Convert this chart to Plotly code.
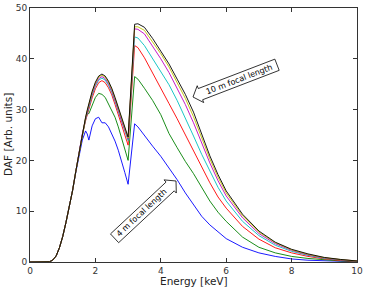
import math
import plotly.graph_objects as go

energy = [0, 0.5, 0.6, 0.7, 0.8, 0.9, 1.0, 1.1, 1.2, 1.3, 1.4, 1.5, 1.6, 1.7, 1.75, 1.8, 1.85, 1.9,
          2.0, 2.1, 2.2, 2.3, 2.4, 2.5, 2.6, 2.7, 2.8, 2.9, 3.0, 3.2, 3.3, 3.5, 3.75, 4.0, 4.25, 4.5,
          4.75, 5.0, 5.25, 5.5, 5.75, 6.0, 6.5, 7.0, 7.5, 8.0, 8.5, 9.0, 9.5, 10.0]

daf_4m = [0, 0, 0.05, 0.4, 1.2, 2.8, 5.0, 7.8, 10.8, 14.0, 17.6, 21.2, 24.0, 25.8, 25.2, 24.0, 25.2, 26.8,
          28.2, 28.5, 27.4, 27.4, 26.6, 25.3, 23.8, 22.0, 20.0, 17.6, 15.3, 27.2, 26.6, 24.8, 22.8, 20.8, 18.6, 16.2,
          13.6, 11.2, 9.0, 7.3, 5.9, 4.6, 2.9, 1.8, 1.1, 0.6, 0.35, 0.2, 0.1, 0.05]
daf_5m = [0, 0, 0.05, 0.4, 1.2, 2.8, 5.0, 7.8, 10.8, 14.0, 17.8, 21.6, 24.8, 28.2, 29.2, 29.2, 30.0, 30.9,
          32.4, 33.2, 33.0, 32.4, 31.2, 29.8, 28.5, 26.6, 24.4, 22.0, 20.0, 36.5, 36.0, 34.2, 31.8, 29.0, 25.3, 22.5,
          19.8, 17.4, 14.7, 12.0, 9.8, 8.0, 4.9, 2.9, 1.8, 1.1, 0.7, 0.4, 0.2, 0.08]
daf_6m = [0, 0, 0.05, 0.4, 1.2, 2.8, 5.0, 7.8, 10.8, 14.0, 17.8, 21.6, 25.0, 27.8, 29.0, 30.2, 31.3, 32.3,
          34.1, 35.3, 35.7, 35.3, 34.3, 32.9, 31.0, 29.0, 26.8, 24.8, 23.0, 42.6, 42.2, 40.2, 37.3, 34.2, 31.2, 28.2,
          25.0, 21.8, 18.6, 15.6, 12.8, 10.6, 7.0, 4.5, 2.8, 1.8, 1.1, 0.6, 0.3, 0.12]
daf_7m = [0, 0, 0.05, 0.4, 1.2, 2.8, 5.0, 7.8, 10.8, 14.0, 17.8, 21.6, 25.1, 28.0, 29.3, 30.6, 31.7, 32.8,
          34.6, 35.8, 36.2, 35.8, 34.8, 33.4, 31.6, 29.6, 27.5, 25.5, 23.9, 44.3, 44.1, 42.6, 40.1, 37.5, 34.9, 31.8,
          28.4, 24.8, 21.2, 17.8, 14.7, 12.0, 8.0, 5.2, 3.3, 2.1, 1.3, 0.7, 0.4, 0.15]
daf_8m = [0, 0, 0.05, 0.4, 1.2, 2.8, 5.0, 7.8, 10.8, 14.0, 17.8, 21.6, 25.2, 28.2, 29.6, 30.9, 32.0, 33.1,
          34.9, 36.1, 36.5, 36.1, 35.1, 33.7, 31.9, 29.9, 27.8, 25.8, 24.2, 45.9, 45.8, 44.9, 42.5, 40.0, 37.3, 34.3,
          31.0, 27.4, 23.4, 19.5, 16.0, 13.0, 8.7, 5.6, 3.6, 2.3, 1.4, 0.8, 0.45, 0.2]
daf_9m = [0, 0, 0.05, 0.4, 1.2, 2.8, 5.0, 7.8, 10.8, 14.0, 17.8, 21.6, 25.3, 28.4, 29.8, 31.1, 32.3, 33.4,
          35.2, 36.4, 36.8, 36.4, 35.4, 34.0, 32.2, 30.2, 28.1, 26.1, 24.4, 46.3, 46.3, 45.6, 43.4, 41.0, 38.4, 35.4,
          32.2, 28.6, 24.4, 20.3, 16.7, 13.6, 9.1, 5.9, 3.8, 2.4, 1.5, 0.85, 0.48, 0.2]
daf_10m = [0, 0, 0.05, 0.4, 1.2, 2.8, 5.0, 7.8, 10.8, 14.0, 17.8, 21.6, 25.3, 28.5, 29.9, 31.3, 32.5, 33.6,
           35.4, 36.6, 37.0, 36.6, 35.6, 34.2, 32.4, 30.4, 28.3, 26.3, 24.6, 46.8, 46.9, 46.2, 44.0, 41.5, 39.0, 36.0,
           33.0, 29.5, 25.2, 20.9, 17.2, 14.0, 9.4, 6.1, 3.9, 2.5, 1.6, 0.9, 0.5, 0.2]

series = [daf_4m, daf_5m, daf_6m, daf_7m, daf_8m, daf_9m, daf_10m]
colors = ["#0000ff", "#008000", "#ff0000", "#00bfbf", "#bf00bf", "#bfbf00", "#000000"]
names = ["4 m", "5 m", "6 m", "7 m", "8 m", "9 m", "10 m"]

x_ticks = [0, 2, 4, 6, 8, 10]
y_ticks = [0, 10, 20, 30, 40, 50]

W, H = 370, 287
ml, mr, mt, mb = 30, 13, 8, 25
pw, ph = W - ml - mr, H - mt - mb

fig = go.Figure()
for ys, c, n in zip(series, colors, names):
    fig.add_trace(go.Scatter(x=energy, y=ys, mode="lines", name=n,
                             line=dict(color=c, width=0.9), showlegend=False))


def to_paper(px, py):
    return (px - ml) / pw, (H - mb - py) / ph


def arrow_box(tip, ang_deg, length, half_h, head_len, head_hw):
    a = math.radians(ang_deg)
    u = (math.cos(a), -math.sin(a))
    n = (math.sin(a), math.cos(a))
    tx, ty = tip

    def pt(s, t):
        return (tx + s * u[0] + t * n[0], ty + s * u[1] + t * n[1])

    pts = [pt(0, 0), pt(head_len, -head_hw), pt(head_len, -half_h), pt(length, -half_h),
           pt(length, half_h), pt(head_len, half_h), pt(head_len, head_hw)]
    pp = [to_paper(*p) for p in pts]
    path = "M " + " L ".join(f"{x:.4f},{y:.4f}" for x, y in pp) + " Z"
    fig.add_shape(type="path", path=path, xref="paper", yref="paper",
                  line=dict(color="black", width=0.8), fillcolor="white", layer="above")
    cx, cy = pt((head_len + length) / 2 + 0.5, 0)
    return to_paper(cx, cy)


a1 = arrow_box((193, 97), 21, 90, 6, 8, 9)
a2 = arrow_box((176, 181), 180 + 43, 84, 6, 8, 9)

fig.add_annotation(x=a1[0], y=a1[1], xref="paper", yref="paper", text="10 m focal length",
                   xanchor="center", yanchor="middle",
                   showarrow=False, textangle=-21, font=dict(family="DejaVu Sans", size=8, color="black"))
fig.add_annotation(x=a2[0], y=a2[1], xref="paper", yref="paper", text="4 m focal length",
                   xanchor="center", yanchor="middle",
                   showarrow=False, textangle=-43, font=dict(family="DejaVu Sans", size=8, color="black"))

# axis titles
fig.add_annotation(x=0.5, y=-(281 - (H - mb)) / ph, xref="paper", yref="paper", text="Energy [keV]",
                   xanchor="center", yanchor="middle", showarrow=False,
                   font=dict(family="DejaVu Sans", size=10.5, color="#222222"))
fig.add_annotation(x=-(ml - 8) / pw, y=to_paper(0, 135)[1], xref="paper", yref="paper", text="DAF [Arb. units]",
                   xanchor="center", yanchor="middle", showarrow=False, textangle=-90,
                   font=dict(family="DejaVu Sans", size=10.5, color="#222222"))

axis_common = dict(showline=True, linecolor="#333333", linewidth=1, mirror="ticks", ticks="inside",
                   ticklen=4, tickcolor="#333333", showgrid=False, zeroline=False, automargin=False,
                   tickfont=dict(family="DejaVu Sans", size=9, color="#333333"))

fig.update_xaxes(range=[0, 10], tickvals=x_ticks, ticktext=[str(v) for v in x_ticks], **axis_common)
fig.update_yaxes(range=[0, 50], tickvals=y_ticks, ticktext=[str(v) for v in y_ticks], **axis_common)

fig.update_layout(width=W, height=H, margin=dict(l=ml, r=mr, t=mt, b=mb),
                  paper_bgcolor="white", plot_bgcolor="white")

fig.write_html("out.html")
